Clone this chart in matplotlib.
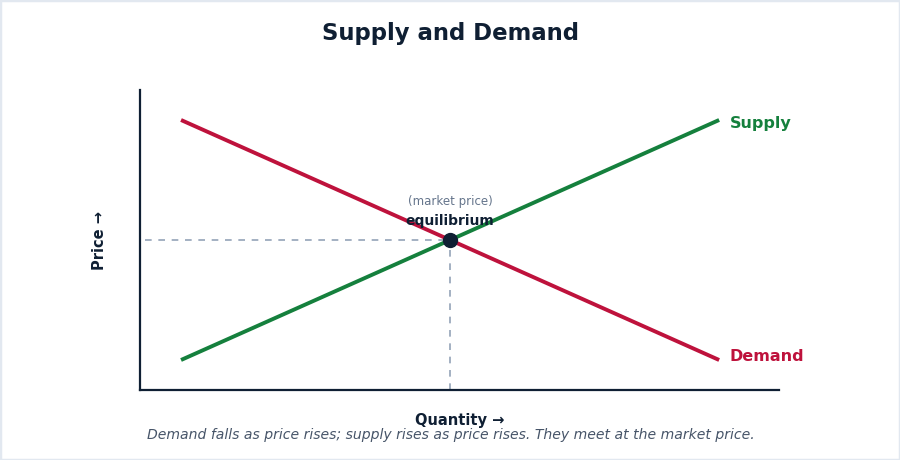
import matplotlib
matplotlib.use("Agg")
import matplotlib.pyplot as plt
from matplotlib.patches import Rectangle

# data
quantity = [1, 9]
demand_price = [9, 1]
supply_price = [1, 9]
eq_q, eq_p = 5, 5

DARK = "#0f1f33"
GREEN = "#15803d"
RED = "#be123c"
GRAY = "#94a3b8"

fig = plt.figure(figsize=(9, 4.6001), dpi=100)
fig.patches.append(Rectangle((0, 0), 1, 1, transform=fig.transFigure, fill=False,
                             edgecolor="#e2e8f0", linewidth=2.5, zorder=10))

ax = fig.add_axes([140 / 900, 70 / 460, 639 / 900, 300 / 460])
ax.set_xlim(0.39, 9.89)
ax.set_ylim(0, 10)

# guide lines to the equilibrium
ax.plot([0.46, eq_q], [eq_p, eq_p], color=GRAY, lw=1.2, ls=(0, (4, 4)))
ax.plot([eq_q, eq_q], [0, eq_p], color=GRAY, lw=1.2, ls=(0, (4, 4)))

ax.plot(quantity, demand_price, color=RED, lw=2.8, solid_capstyle="butt")
ax.plot(quantity, supply_price, color=GREEN, lw=2.8, solid_capstyle="butt")
ax.plot([eq_q], [eq_p], "o", color=DARK, markersize=10, zorder=5)

ax.text(quantity[-1] + 0.16, supply_price[-1] - 0.1, "Supply", color=GREEN, fontsize=11.5,
        fontweight="bold", va="center", ha="left")
ax.text(quantity[-1] + 0.16, demand_price[-1] + 0.13, "Demand", color=RED, fontsize=11.5,
        fontweight="bold", va="center", ha="left")
ax.text(eq_q, eq_p + 0.65, "equilibrium", color=DARK, fontsize=10, fontweight="bold",
        ha="center", va="center")
ax.text(eq_q, eq_p + 1.3, "(market price)", color="#64748b", fontsize=8.5,
        ha="center", va="center")

for s in ["top", "right"]:
    ax.spines[s].set_visible(False)
for s in ["left", "bottom"]:
    ax.spines[s].set_color(DARK)
    ax.spines[s].set_linewidth(1.6)
ax.set_xticks([])
ax.set_yticks([])

fig.text(0.5, 1 - 33 / 460, "Supply and Demand", ha="center", va="center",
         fontsize=16.4, fontweight="bold", color=DARK)
fig.text(459.5 / 900, 1 - 420 / 460, "Quantity \u2192", ha="center", va="center",
         fontsize=10.5, fontweight="bold", color=DARK)
fig.text(100 / 900, 1 - 240 / 460, "Price \u2192", ha="center", va="center",
         rotation=90, fontsize=10.5, fontweight="bold", color=DARK)
fig.text(451 / 900, 1 - 435 / 460,
         "Demand falls as price rises; supply rises as price rises. They meet at the market price.",
         ha="center", va="center", fontsize=10.1, style="italic", color="#475569")

fig.savefig("out.png", dpi=100)
